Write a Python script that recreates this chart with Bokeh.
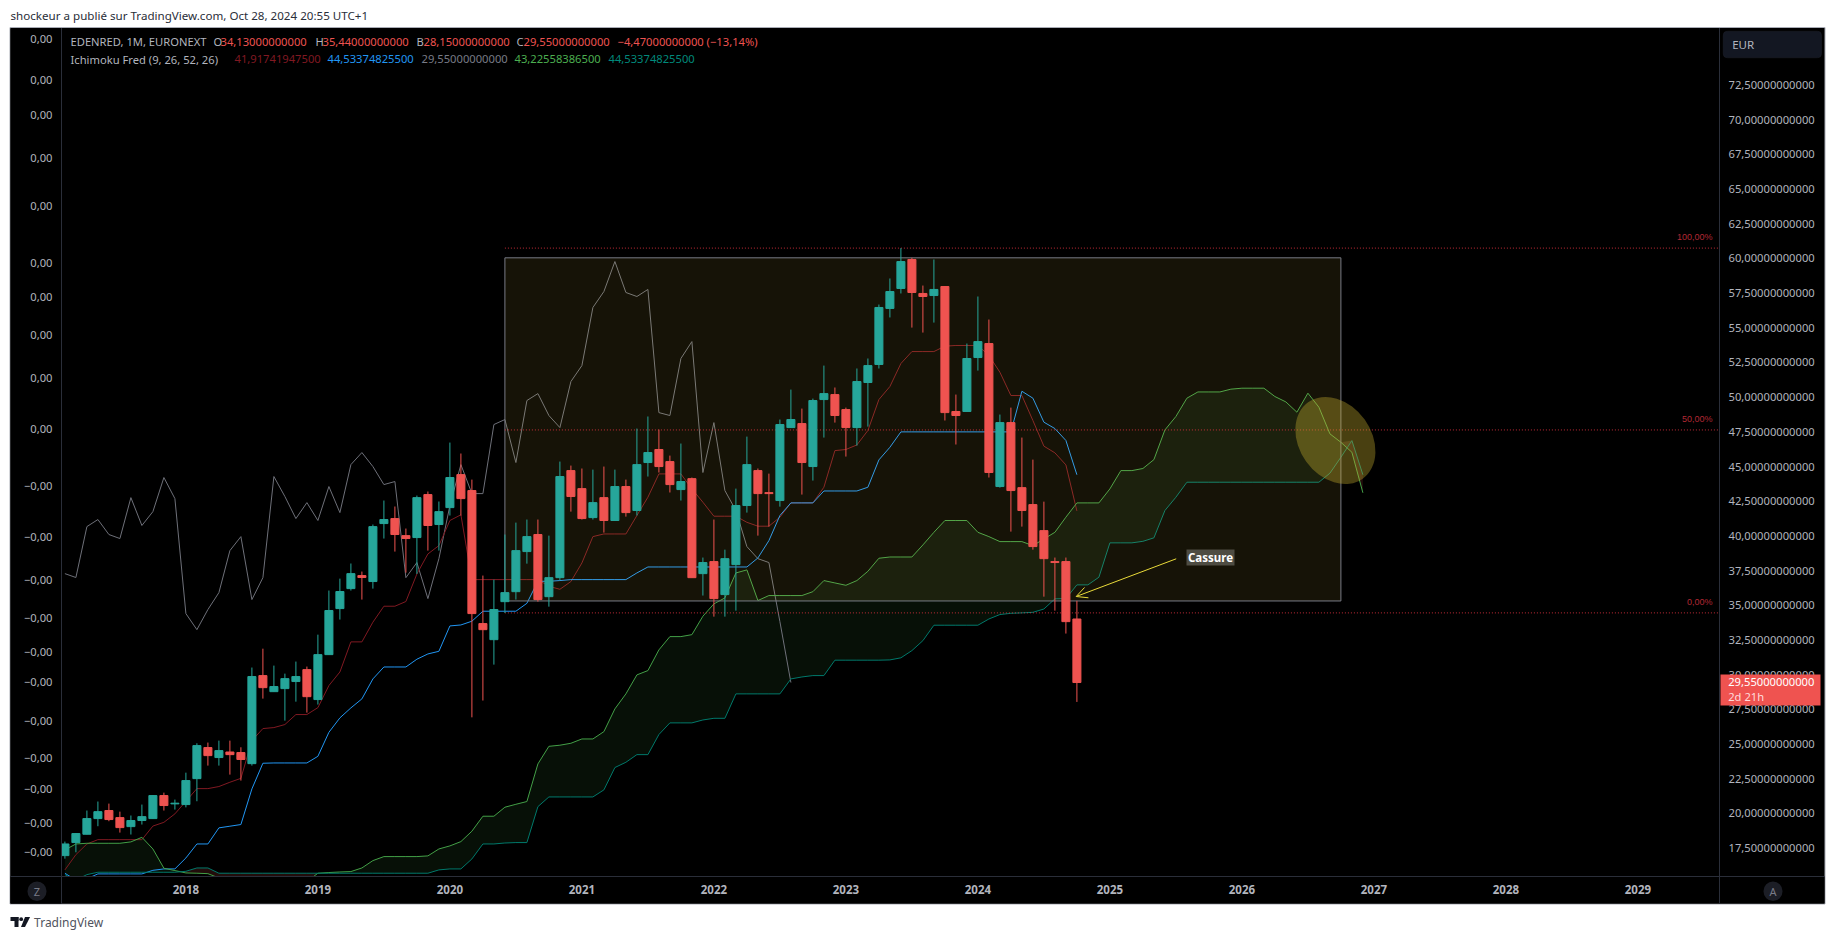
import numpy as np
from bokeh.plotting import figure
from bokeh.embed import file_html
from bokeh.resources import INLINE
from bokeh.models import (Range1d, LinearAxis, FixedTicker, Label, BoxAnnotation, PolyAnnotation,
                          Arrow, OpenHead, ColumnDataSource)

# ---------- data (EUR, monthly, first bar Feb 2017) ----------
opens = [17.07,18.01,18.61,19.74,20.32,19.81,19.16,19.60,19.74,21.40,20.80,20.75,22.62,24.86,24.14,24.54,24.50,23.70,30.05,28.89,
         29.11,29.62,30.48,28.32,31.56,34.88,36.32,37.26,36.83,41.01,41.37,40.14,40.00,43.10,40.94,42.16,44.54,43.39,33.80,32.64,
         35.38,36.10,38.99,40.22,35.74,37.11,44.83,43.53,41.44,42.88,41.23,43.68,41.95,45.41,46.35,45.48,43.46,44.25,37.40,38.27,
         35.89,38.05,42.31,44.83,43.24,42.67,47.93,48.22,45.12,49.95,50.31,49.23,47.93,51.18,52.48,56.52,57.96,60.05,57.60,57.45,
         58.10,49.09,49.09,52.98,53.99,43.68,48.29,43.60,42.38,40.50,38.27,38.27,34.13]
highs = [18.08,18.70,20.32,20.97,20.82,20.24,19.96,20.75,21.42,21.61,21.11,23.05,25.17,25.22,25.36,25.36,24.88,30.63,31.99,30.77,
         30.19,31.06,30.70,33.00,36.18,37.04,38.13,37.55,40.94,42.67,42.24,40.65,43.03,43.32,42.60,46.85,46.06,44.18,37.26,36.97,
         40.22,41.08,41.30,41.30,40.14,45.48,45.19,44.98,44.90,45.12,44.90,44.18,47.86,48.73,47.79,45.91,46.78,44.33,38.56,41.30,
         39.13,43.53,47.28,44.98,44.61,48.51,50.67,49.30,50.02,52.40,50.82,49.37,52.19,52.91,56.80,58.68,60.87,60.17,58.17,60.05,
         58.10,50.31,53.99,57.38,55.72,48.87,49.37,47.21,45.62,42.59,38.56,38.56,35.44]
lows = [16.85,17.31,18.61,19.19,19.55,18.73,18.59,19.31,19.72,20.32,20.39,20.55,20.99,23.56,23.56,22.91,22.48,23.56,28.39,28.89,
        26.80,28.17,27.38,27.96,31.56,34.09,36.18,35.53,36.32,39.93,38.99,37.47,37.38,39.06,39.06,41.59,41.59,27.04,28.25,30.84,
        34.56,35.53,38.12,35.38,35.02,36.90,41.87,41.30,41.30,40.36,41.23,41.51,41.59,44.40,44.69,43.25,42.67,37.11,35.82,34.30,
        34.30,34.73,41.80,40.14,40.79,42.23,47.93,43.10,44.11,47.21,48.29,45.84,46.63,48.00,52.19,55.87,57.60,55.14,54.78,55.50,
        48.44,46.71,49.09,52.04,44.33,43.60,40.43,40.79,39.13,35.74,34.73,33.08,28.15]
closes = [17.91,18.66,19.74,20.24,19.67,19.09,19.60,19.88,21.40,20.68,20.85,22.48,25.00,24.28,24.64,24.35,24.00,29.98,29.18,29.26,
          29.83,29.98,28.53,31.56,34.74,36.11,37.40,37.12,40.79,41.30,40.22,39.93,42.88,40.87,41.87,44.33,42.81,34.52,33.36,34.81,
          36.03,39.06,40.07,35.53,37.11,44.40,42.96,41.37,42.52,41.23,43.68,41.80,45.26,46.13,45.12,43.82,44.04,37.11,38.20,35.60,
          38.48,42.31,45.26,43.17,43.17,48.15,48.51,45.41,49.88,50.38,48.80,47.93,51.25,52.40,56.59,57.74,59.90,57.67,57.38,57.89,
          49.01,48.80,52.91,54.13,44.69,48.29,43.39,41.95,39.35,38.48,38.20,33.94,29.55]
tenkan = [16.04,17.14,17.91,18.22,18.22,18.22,18.22,18.22,19.20,19.47,20.08,20.99,21.90,21.90,22.05,22.36,22.64,25.36,26.23,26.30,
          26.52,27.24,27.24,27.74,29.33,30.31,32.48,32.48,33.90,35.05,35.05,35.39,37.38,38.82,39.42,41.23,41.64,36.97,36.97,36.97,
          36.97,36.97,36.97,36.97,36.49,36.27,36.83,38.17,40.07,40.26,40.26,40.26,41.59,42.91,44.59,44.59,44.59,43.51,42.55,41.54,
          41.54,41.54,41.10,40.82,40.82,41.47,42.50,42.50,42.50,43.63,46.27,46.35,46.68,47.72,49.95,50.89,52.55,53.41,53.41,53.41,
          53.80,53.85,53.85,53.85,53.13,51.92,50.24,50.24,48.44,46.59,46.11,45.24,41.92]
kijun = [15.80,15.30,15.40,15.75,15.75,15.75,15.75,15.75,16.01,16.11,16.11,16.90,17.91,17.91,19.07,19.19,19.31,21.88,23.73,23.75,
         23.75,23.75,23.75,24.23,25.96,27.00,27.72,28.37,29.81,30.67,30.67,30.67,31.23,31.61,31.80,33.63,33.70,33.97,34.69,34.69,
         34.69,34.69,35.26,36.85,36.85,36.90,36.97,36.97,36.97,36.97,36.97,36.97,37.45,37.88,37.88,37.88,37.88,37.88,37.88,37.88,
         37.88,37.88,37.88,38.53,39.78,41.59,42.50,42.50,42.50,43.36,43.36,43.36,43.36,43.63,45.60,46.51,47.62,47.62,47.62,47.62,
         47.62,47.62,47.62,47.62,47.62,47.62,47.62,50.55,50.05,48.32,47.86,47.00,44.53]
chikou = [37.40,37.12,40.79,41.30,40.22,39.93,42.88,40.87,41.87,44.33,42.81,34.52,33.36,34.81,36.03,39.06,40.07,35.53,37.11,44.40,
          42.96,41.37,42.52,41.23,43.68,41.80,45.26,46.13,45.12,43.82,44.04,37.11,38.20,35.60,38.48,42.31,45.26,43.17,43.17,48.15,
          48.51,45.41,49.88,50.38,48.80,47.93,51.25,52.40,56.59,57.74,59.90,57.67,57.38,57.89,49.01,48.80,52.91,54.13,44.69,48.29,
          43.39,41.95,39.35,38.48,38.20,33.94,29.55]
senkou_a = [17.48,17.91,17.96,17.96,17.96,17.96,18.06,18.39,17.55,16.16,15.99,15.82,15.80,15.77,15.46,15.20,15.20,15.20,15.20,15.20,
            15.20,15.20,15.20,15.80,15.85,15.89,15.92,16.18,16.71,17.00,17.00,17.00,17.00,17.05,17.55,17.77,18.08,18.83,19.91,19.91,
            20.56,20.77,20.97,23.68,24.95,25.03,25.17,25.48,25.48,26.01,27.65,28.73,30.10,30.41,31.90,32.86,32.86,33.00,34.33,35.22,
            35.65,37.45,37.67,35.46,35.82,35.82,35.82,35.82,36.10,36.90,36.73,36.56,36.90,37.57,38.51,38.60,38.60,38.60,39.47,40.38,
            41.23,41.23,41.23,40.38,40.07,39.71,39.71,39.71,39.42,39.90,40.38,41.47,42.50,42.50,42.50,43.51,44.83,44.83,44.98,45.62,
            47.76,48.73,50.05,50.50,50.50,50.50,50.70,50.77,50.77,50.77,50.17,49.78,49.04,50.41,49.40,47.48,46.87,46.15,43.23]
senkou_b = [15.70,15.30,15.70,15.87,15.87,15.87,15.87,15.87,15.87,15.87,15.87,15.94,16.18,16.18,15.80,15.80,15.80,15.80,15.80,15.80,
            15.80,15.80,15.80,15.80,15.80,15.80,15.80,15.80,15.80,15.80,15.80,15.80,15.80,15.80,16.04,16.11,16.11,16.83,17.91,17.91,
            17.98,18.01,18.01,20.60,21.30,21.30,21.30,21.30,21.30,21.81,23.42,23.80,24.35,24.35,25.80,26.64,26.64,26.64,26.85,26.97,
            26.97,28.73,28.73,28.73,28.73,28.73,29.81,29.95,30.05,30.05,31.16,31.16,31.16,31.16,31.16,31.18,31.33,31.85,32.57,33.68,
            33.68,33.68,33.68,33.68,34.13,34.45,34.54,34.57,34.61,34.85,35.58,35.60,36.59,36.59,37.14,39.62,39.62,39.62,39.73,39.98,
            41.95,42.91,43.99,43.99,43.99,43.99,43.99,43.99,43.99,43.99,43.99,43.99,43.99,43.99,43.99,44.64,45.79,46.99,44.53]

years = [2018,2019,2020,2021,2022,2023,2024,2025,2026,2027,2028,2029]
price_ticks = [17.5,20.0,22.5,25.0,27.5,30.0,32.5,35.0,37.5,40.0,42.5,45.0,47.5,50.0,52.5,55.0,57.5,60.0,62.5,65.0,67.5,70.0,72.5]
left_ticks_zero = [75.84,72.88,70.31,67.28,63.75,59.64,57.19,54.45,51.35,47.74]
left_ticks_neg = [43.56,39.95,36.85,34.11,31.66,29.50,26.62,24.02,21.72,19.33,17.20]
fib_levels = [60.87,47.76,34.57]
fib_names = ["100,00%","50,00%","0,00%"]
zone_top, zone_bottom = 60.17, 35.43
zone_first, zone_last = 40, 116       # bar numbers of the zone's edges
last_price = "29,55000000000"

# ---------- colours / fonts ----------
UP, DOWN = "#26a69a", "#ef5350"
FONT = "Noto Sans"
TXT = "#b2b5be"
CHROME = "#2a2e39"
RED_DIM = "#b22833"

# page-pixel helpers for the page furniture
def xd(px): return (px - 64.4) / 11.0
def yd(py): return 78.722 - py / 13.87

p = figure(width=1835, height=939, output_backend="svg", toolbar_location=None,
           x_range=Range1d(xd(0), xd(1835)), y_range=Range1d(yd(939), yd(0)),
           x_axis_location=None, y_axis_location=None, min_border=0,
           background_fill_color="#ffffff", border_fill_color="#ffffff", outline_line_color=None)
p.grid.visible = False
# the price scale's labels sit slightly above their levels in the reference
LABEL_SHIFT = 1.7 / 13.87
p.extra_y_ranges = {"labels": Range1d(yd(939) - LABEL_SHIFT, yd(0) - LABEL_SHIFT)}

def gbox(l, r, t, b, fill, line=None):
    """Furniture box that is painted in glyph order."""
    p.quad(left=[xd(l)], right=[xd(r)], top=[yd(t)], bottom=[yd(b)], fill_color=fill, line_color=line)

def box(l, r, t, b, fill, line=None, radius=0):
    p.add_layout(BoxAnnotation(left=xd(l), right=xd(r), top=yd(t), bottom=yd(b), fill_color=fill, fill_alpha=1,
                               line_color=line, border_radius=radius, editable=False))

def lab(px, py, text, color=TXT, size="11.2px", align="left", style="normal", font=FONT):
    p.add_layout(Label(x=xd(px), y=yd(py), text=text, text_color=color, text_font_size=size, text_align=align,
                       text_baseline="middle", text_font_style=style, text_font=font))

# dark chart panel
gbox(9.5, 1824.5, 27, 903.5, "#000000", line="#a9acb5")

# series
n = len(closes)
ix = np.arange(n)
a_arr, b_arr = np.array(senkou_a), np.array(senkou_b)
cx = np.arange(len(a_arr))
top = np.maximum(a_arr, b_arr)
p.varea(cx, y1=b_arr, y2=top, fill_color="#4caf50", fill_alpha=0.09)
p.varea(cx, y1=a_arr, y2=top, fill_color="#ef5350", fill_alpha=0.14)
p.line(np.arange(len(chikou)), chikou, line_color="#6e7079", line_width=1)
p.line(ix, tenkan, line_color="#801922", line_width=1)
p.line(ix, kijun, line_color="#2196f3", line_width=1)
p.line(cx, senkou_a, line_color="#43a047", line_width=1)
p.line(cx, senkou_b, line_color="#00796b", line_width=1)

# zone + fib levels
p.quad(left=[zone_first], right=[zone_last], top=[zone_top], bottom=[zone_bottom],
       fill_color="#ffe050", fill_alpha=0.085, line_color="#787b86", line_width=1)
for lv in fib_levels:
    p.segment([zone_first], [lv], [xd(1719)], [lv], line_color="#f23645", line_alpha=0.8, line_width=1, line_dash="1 2")

# candles
colors = [UP if c >= o else DOWN for o, c in zip(opens, closes)]
src = ColumnDataSource(dict(x=ix, o=opens, h=highs, l=lows, c=closes, col=colors))
p.segment("x", "h", "x", "l", color="col", line_width=1, source=src)
p.vbar("x", width=0.73, top="o", bottom="c", fill_color="col", line_color="col", line_width=1, source=src)

# ellipse
p.ellipse([115.5], [47.0], width=94, height=72, width_units="screen", height_units="screen",
          angle=-54.5, angle_units="deg", fill_color="#c9b22f", fill_alpha=0.36, line_color=None)

# masks so the series stop at the chart area, then dividers
gbox(10, 60.5, 28, 903, "#000000")
gbox(10, 1824, 876.5, 903, "#000000")
gbox(60.5, 61.5, 27.5, 903, CHROME)
gbox(1718.5, 1719.5, 27.5, 903, CHROME)
gbox(10, 1824, 875.5, 876.5, CHROME)

# axes, fixed at the chart area's edges
def style(ax, standoff):
    ax.axis_line_color = None
    ax.major_tick_line_color = None
    ax.minor_tick_line_color = None
    ax.major_tick_out = 0
    ax.major_tick_in = 0
    ax.minor_tick_out = 0
    ax.minor_tick_in = 0
    ax.major_label_text_color = TXT
    ax.major_label_text_font = FONT
    ax.major_label_text_font_size = "11.2px"
    ax.major_label_standoff = standoff

ra = LinearAxis(ticker=FixedTicker(ticks=price_ticks), fixed_location=xd(1719), y_range_name="labels")
ra.major_label_overrides = {v: f"{v:.11f}".replace(".", ",") for v in price_ticks}
style(ra, 9)
p.add_layout(ra, "right")

la = LinearAxis(ticker=FixedTicker(ticks=left_ticks_zero + left_ticks_neg), fixed_location=xd(61), y_range_name="labels")
ov = {v: "0,00" for v in left_ticks_zero}
ov.update({v: "\u22120,00" for v in left_ticks_neg})
la.major_label_overrides = ov
style(la, 9)
p.add_layout(la, "left")

year_pos = [(y - 2017) * 12 - 1 for y in years]
xa = LinearAxis(ticker=FixedTicker(ticks=year_pos), fixed_location=yd(876))
xa.major_label_overrides = {v: str(y) for v, y in zip(year_pos, years)}
style(xa, 8)
xa.major_label_text_font_size = "11.5px"
xa.major_label_text_font_style = "bold"
p.add_layout(xa, "below")

# fib labels
for lv, nm in zip(fib_levels, fib_names):
    lab(1712, (78.722 - lv) * 13.87 - 11, nm, color=RED_DIM, size="9px", align="right", font="Liberation Sans")

# arrow + note
p.add_layout(Arrow(end=OpenHead(size=11, line_color="#eadb3a", line_width=1), x_start=xd(1175.7), y_start=yd(558.3),
                   x_end=xd(1075.7), y_end=yd(596), line_color="#eadb3a", line_width=1))
box(1186, 1234, 549, 565, "#4e4c42")
lab(1210, 557, "Cassure", color="#ffffff", size="11.5px", align="center", style="bold")

# legend texts
lab(70, 41, "EDENRED, 1M, EURONEXT")
for px_l, px_v, letter, val in [(213, 220, "O", "34,13000000000"), (315, 322, "H", "35,44000000000"),
                                (416, 423, "B", "28,15000000000"), (516, 523, "C", "29,55000000000")]:
    lab(px_l, 41, letter)
    lab(px_v, 41, val, color=DOWN)
lab(617, 41, "\u22124,47000000000 (\u221213,14%)", color=DOWN)
lab(70, 58.7, "Ichimoku Fred (9, 26, 52, 26)")
lab(234, 58.7, "41,91741947500", color="#801922")
lab(327, 58.7, "44,53374825500", color="#2196f3")
lab(421, 58.7, "29,55000000000", color="#787b86")
lab(514, 58.7, "43,22558386500", color="#4caf50")
lab(608, 58.7, "44,53374825500", color="#00897b")

# page furniture
lab(10, 15.3, "shockeur a publi\u00e9 sur TradingView.com, Oct 28, 2024 20:55 UTC+1", color="#2a2e39", size="11.6px")
lab(33.6, 921.7, "TradingView", color="#50535e", size="12px")
box(10, 18, 916.5, 920.5, "#131722")
box(14, 18, 916.5, 926.5, "#131722")
box(18.8, 22.6, 916.8, 920.6, "#131722", radius=2)
p.add_layout(PolyAnnotation(xs=[xd(24.5), xd(29.6), xd(24.5), xd(20.5)], ys=[yd(916.5), yd(916.5), yd(926.5), yd(926.5)],
                            fill_color="#131722", fill_alpha=1, line_color=None))

box(1722.7, 1821, 30.7, 57.3, "#131722", line=CHROME, radius=4)
lab(1731.7, 44, "EUR", size="11.5px")
box(27, 46, 881, 900.5, "#1c1e26", radius=10)
lab(36.5, 891, "Z", color="#787b86", size="11px", align="center")
box(1763, 1782, 881, 900.5, "#1c1e26", radius=10)
lab(1772.5, 891, "A", color="#787b86", size="11px", align="center")

box(1720, 1820, 674, 705, DOWN)
lab(1727.7, 681.7, last_price, color="#ffffff", size="11.2px")
lab(1727.7, 696, "2d 21h", color="#ffdcdc", size="11.2px")

open("out.html", "w").write(file_html(p, INLINE))
